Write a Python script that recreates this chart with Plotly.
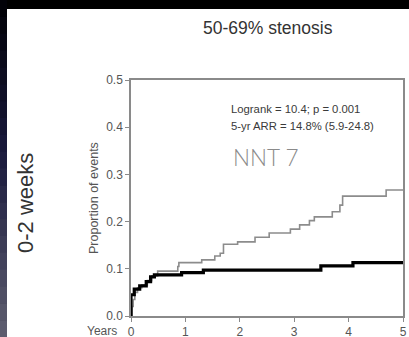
import plotly.graph_objects as go

# ---- data ----
gray_t = [0, 0.02, 0.04, 0.07, 0.12, 0.20, 0.30, 0.38, 0.49, 0.86, 0.88, 1.30, 1.54, 1.64, 1.70, 1.96,
          2.28, 2.54, 2.93, 3.10, 3.28, 3.37, 3.70, 3.84, 3.89, 4.69, 5.0]
gray_v = [0, 0.02, 0.035, 0.05, 0.06, 0.066, 0.075, 0.085, 0.095, 0.105, 0.113, 0.119, 0.127, 0.133, 0.152, 0.157,
          0.167, 0.176, 0.184, 0.193, 0.202, 0.210, 0.221, 0.235, 0.254, 0.267, 0.267]
black_t = [0, 0.0, 0.06, 0.16, 0.28, 0.36, 0.43, 0.93, 1.33, 3.49, 4.08, 5.0]
black_v = [0, 0.045, 0.057, 0.064, 0.073, 0.083, 0.087, 0.092, 0.097, 0.106, 0.113, 0.113]
x_ticks = [0, 1, 2, 3, 4, 5]
y_ticks = [0.0, 0.1, 0.2, 0.3, 0.4, 0.5]
title_text = "50-69% stenosis"
side_text = "0-2 weeks"
stats_lines = ["Logrank = 10.4; p = 0.001", "5-yr ARR = 14.8% (5.9-24.8)"]
nnt_text = "NNT 7"

W, H = 409, 337
L, R, T, B = 131, 6, 80, 21
PW, PH = W - L - R, H - T - B

def px(x):
    return (x - L) / PW

def py(y):
    return 1 - (y - T) / PH

fig = go.Figure()
fig.add_trace(go.Scatter(x=gray_t, y=gray_v, mode="lines", line=dict(shape="hv", color="#8c8c8c", width=1.6),
                         showlegend=False, hoverinfo="skip"))
fig.add_trace(go.Scatter(x=black_t, y=black_v, mode="lines", line=dict(shape="hv", color="#000000", width=3.2),
                         showlegend=False, hoverinfo="skip"))

shapes = []
# white slide panel (paper background is black)
shapes.append(dict(type="rect", xref="paper", yref="paper", x0=px(7), x1=px(W), y0=py(H), y1=py(9),
                   fillcolor="#ffffff", line=dict(width=0), layer="below"))
# left gradient strip
n = 20
def lerp(a, b, f):
    return int(round(a + (b - a) * f))
c_top = (2, 2, 8)
c_mid = (25, 25, 60)
c_bot = (92, 92, 110)
for i in range(n):
    f = i / (n - 1)
    if f < 0.45:
        g = f / 0.45
        c = tuple(lerp(c_top[k], c_mid[k], g) for k in range(3))
    else:
        g = (f - 0.45) / 0.55
        c = tuple(lerp(c_mid[k], c_bot[k], g) for k in range(3))
    y0 = H * i / n
    y1 = min(H, H * (i + 1) / n + 0.5)
    shapes.append(dict(type="rect", xref="paper", yref="paper", x0=px(0), x1=px(7), y0=py(y1), y1=py(y0),
                       fillcolor="rgb(%d,%d,%d)" % c, line=dict(width=0), layer="below"))
fig.update_layout(shapes=shapes)

font_main = "Liberation Sans, Arial, sans-serif"
ann = []
ann.append(dict(text=title_text, xref="paper", yref="paper", x=px(268), y=py(28), showarrow=False,
                font=dict(family=font_main, size=17.5, color="#333333"), xanchor="center", yanchor="middle"))
ann.append(dict(text=side_text, xref="paper", yref="paper", x=px(25), y=py(203), showarrow=False, textangle=-90,
                font=dict(family=font_main, size=22, color="#333333"), xanchor="center", yanchor="middle"))
ann.append(dict(text="Proportion of events", xref="paper", yref="paper", x=px(94), y=py(198), showarrow=False,
                textangle=-90, font=dict(family=font_main, size=12.5, color="#555555"),
                xanchor="center", yanchor="middle"))
ann.append(dict(text=stats_lines[0], xref="paper", yref="paper", x=px(229), y=py(109), showarrow=False,
                font=dict(family=font_main, size=11.3, color="#3a3a3a"), xanchor="left", yanchor="middle"))
ann.append(dict(text=stats_lines[1], xref="paper", yref="paper", x=px(229), y=py(126), showarrow=False,
                font=dict(family=font_main, size=11.3, color="#3a3a3a"), xanchor="left", yanchor="middle"))
ann.append(dict(text=nnt_text, xref="paper", yref="paper", x=px(231), y=py(157), showarrow=False,
                font=dict(family="Lato, sans-serif", size=22.5, color="#8a8a8a", weight=300),
                xanchor="left", yanchor="middle"))
ann.append(dict(text="Years", xref="paper", yref="paper", x=px(102), y=py(331), showarrow=False,
                font=dict(family=font_main, size=12, color="#555555"), xanchor="center", yanchor="middle"))
fig.update_layout(annotations=ann)

axis_common = dict(showgrid=False, zeroline=False, showline=True, linecolor="#8a8a8a", linewidth=1.5,
                   mirror=True, ticks="outside", ticklen=4, tickwidth=1.2, tickcolor="#8a8a8a",
                   automargin=False,
                   tickfont=dict(family=font_main, size=12, color="#555555"))
fig.update_xaxes(range=[0, 5], tickvals=x_ticks, ticktext=[str(v) for v in x_ticks], **axis_common)
fig.update_yaxes(range=[0, 0.5], tickvals=y_ticks, ticktext=["%.1f" % v for v in y_ticks], **axis_common)

fig.update_layout(width=W, height=H, margin=dict(l=L, r=R, t=T, b=B, pad=0, autoexpand=False),
                  paper_bgcolor="#000000", plot_bgcolor="white", showlegend=False)

fig.write_html("out.html")
